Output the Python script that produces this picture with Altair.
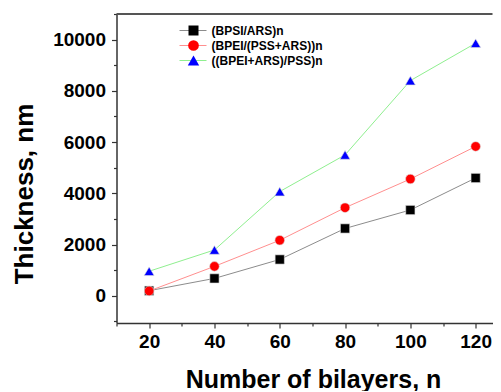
import altair as alt
import pandas as pd

# ---- data ----
bilayers = [20, 40, 60, 80, 100, 120]
series_names = ["(BPSI/ARS)n", "(BPEI/(PSS+ARS))n", "((BPEI+ARS)/PSS)n"]
bpsi_ars = [200, 680, 1420, 2630, 3350, 4600]
bpei_pss_ars = [190, 1150, 2170, 3440, 4560, 5830]
bpei_ars_pss = [960, 1790, 4070, 5500, 8400, 9860]
series_values = [bpsi_ars, bpei_pss_ars, bpei_ars_pss]

marker_colors = ["#000000", "#ff0000", "#0000ff"]
line_colors = ["#8c8c8c", "#ff8f8f", "#8fef8f"]
shapes = ["square", "circle", "triangle-up"]
marker_sizes = [85, 100, 115]

x_ticks = list(range(10, 131, 10))
y_ticks = list(range(-1000, 11001, 1000))

FONT = "Liberation Sans"
W, H = 376, 309
X_MAX = 10 + W / 3.265

rows = []
for name, vals in zip(series_names, series_values):
    for n, t in zip(bilayers, vals):
        rows.append({"n": n, "thickness": t, "series": name})
df = pd.DataFrame(rows)

x_enc = alt.X(
    "n:Q",
    scale=alt.Scale(domain=[10, X_MAX], nice=False, zero=False),
    title="Number of bilayers, n",
    axis=alt.Axis(
        values=[v for v in x_ticks if v <= X_MAX],
        labelExpr="datum.value % 20 == 0 ? datum.label : ''",
        tickSize={"condition": {"test": "datum.value % 20 == 0", "value": 5}, "value": 3},
        labelOverlap=False,
        labelFlush=False,
        labelPadding=4,
        titleX=196.5,
        titleY=64,
        titleBaseline="alphabetic",
        titleAlign="center",
        titleFontSize=25,
    ),
)
y_enc = alt.Y(
    "thickness:Q",
    scale=alt.Scale(domain=[-1060, 11000], nice=False, zero=False),
    title="Thickness, nm",
    axis=alt.Axis(
        values=y_ticks,
        format="d",
        labelExpr="datum.value % 2000 == 0 ? datum.label : ''",
        tickSize={"condition": {"test": "datum.value % 2000 == 0", "value": 5}, "value": 3},
        labelOverlap=False,
        labelFlush=False,
        labelPadding=6,
        titleX=-84.5,
        titleY=179.5,
        titleBaseline="alphabetic",
        titleAlign="center",
        titleFontSize=26,
    ),
)

lines = alt.Chart(df).mark_line(strokeWidth=1).encode(
    x=x_enc,
    y=y_enc,
    stroke=alt.Stroke("series:N", scale=alt.Scale(domain=series_names, range=line_colors), legend=None),
    detail="series:N",
)

points = alt.Chart(df).mark_point(filled=True, opacity=1, strokeWidth=0.6, stroke="#dddddd").encode(
    x=x_enc,
    y=y_enc,
    fill=alt.Fill("series:N", scale=alt.Scale(domain=series_names, range=marker_colors), legend=None),
    shape=alt.Shape("series:N", scale=alt.Scale(domain=series_names, range=shapes), legend=None),
    size=alt.Size("series:N", scale=alt.Scale(domain=series_names, range=marker_sizes), legend=None),
)

top_line = alt.Chart(pd.DataFrame({"a": [0]})).mark_rule(color="#555555", strokeWidth=2).encode(
    x=alt.value(0), x2=alt.value(W), y=alt.value(0)
)

legend_layers = []
for i, name in enumerate(series_names):
    yy = 16.5 + 15 * i
    ldf = pd.DataFrame({"label": [name]})
    legend_layers.append(
        alt.Chart(ldf).mark_rule(color=line_colors[i], strokeWidth=1).encode(
            x=alt.value(63), x2=alt.value(90), y=alt.value(yy)
        )
    )
    legend_layers.append(
        alt.Chart(ldf).mark_point(
            shape=shapes[i], filled=True, fill=marker_colors[i], opacity=1,
            size=marker_sizes[i] + 15, strokeWidth=0
        ).encode(x=alt.value(77), y=alt.value(yy))
    )
    legend_layers.append(
        alt.Chart(ldf).mark_text(
            align="left", baseline="middle", font=FONT, fontSize=12, fontWeight="bold", color="#000"
        ).encode(x=alt.value(95), y=alt.value(yy + 0.5), text="label:N")
    )

chart = (
    alt.layer(lines, points, top_line, *legend_layers)
    .properties(
        width=W,
        height=H,
        autosize=alt.AutoSizeParams(type="none"),
        padding={"left": 108.5, "top": 6, "right": 0, "bottom": 68},
        background="white",
    )
    .configure_view(stroke=None)
    .configure_axis(
        grid=False,
        domainColor="#333333",
        domainWidth=1.5,
        tickColor="#333333",
        tickWidth=1.2,
        labelFont=FONT,
        labelFontSize=19,
        labelFontWeight="bold",
        labelColor="#000000",
        titleFont=FONT,
        titleFontWeight="bold",
        titleColor="#000000",
    )
)

chart.save("out.html", embed_options={"renderer": "svg", "actions": False})
